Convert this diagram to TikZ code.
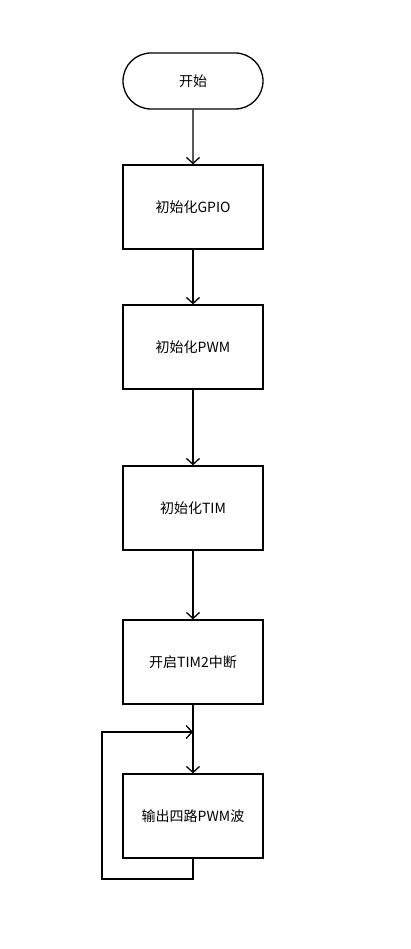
\documentclass[tikz,border=0pt]{standalone}
\usepackage{fontspec}
\setmainfont{Noto Sans CJK SC}
\usetikzlibrary{arrows.meta,shapes.misc}
\begin{document}
\begin{tikzpicture}[x=1pt,y=-1pt,
  box/.style={draw,line width=1.3pt,minimum width=140pt,minimum height=84pt,inner sep=0pt,font=\fontsize{14}{16}\selectfont},
  term/.style={draw,line width=1.3pt,rounded rectangle,minimum width=140pt,minimum height=56pt,inner sep=0pt,font=\fontsize{14}{16}\selectfont},
  arr/.style={line width=1.3pt,-{Straight Barb[length=6pt,width=13pt,line width=1.3pt]}}]
\useasboundingbox (0,0) rectangle (410,949);
\node[term] (s) at (193,81) {开始};
\node[box] (b1) at (193,207) {初始化GPIO};
\node[box] (b2) at (193,347) {初始化PWM};
\node[box] (b3) at (193,508) {初始化TIM};
\node[box] (b4) at (193,662) {开启TIM2中断};
\node[box] (b5) at (193,816) {输出四路PWM波};
\coordinate (j) at (193,732);
\coordinate (l1) at (193,879);
\coordinate (l2) at (102,879);
\coordinate (l3) at (102,732);
\draw[arr] (s) -- (b1);
\draw[arr] (b1) -- (b2);
\draw[arr] (b2) -- (b3);
\draw[arr] (b3) -- (b4);
\draw[arr] (b4) -- (b5);
\draw[arr] (b5.south) -- (l1) -- (l2) -- (l3) -- (j);
\end{tikzpicture}
\end{document}
